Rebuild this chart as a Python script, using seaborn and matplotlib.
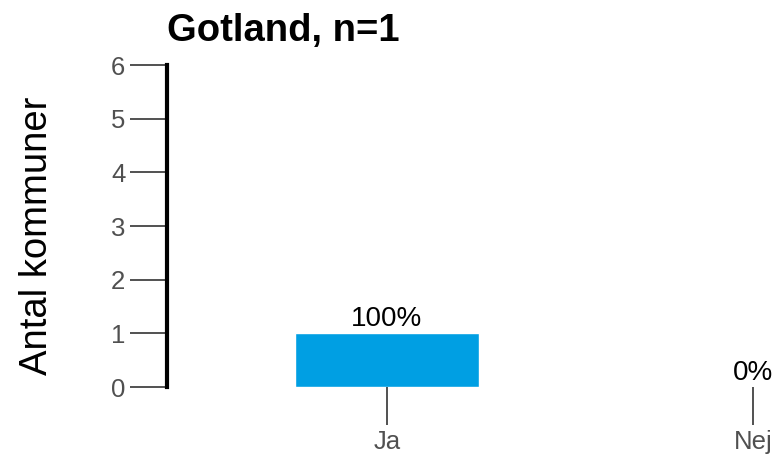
import pandas as pd
import matplotlib
matplotlib.use("Agg")
import matplotlib.pyplot as plt
import seaborn as sns

sns.set_style("white")
plt.rcParams['font.family'] = ['Liberation Sans', 'DejaVu Sans']

# data
categories = ["Ja", "Nej"]
counts = [1, 0]
pct_labels = ["100%", "0%"]
title = "Gotland, n=1"

df = pd.DataFrame({"svar": categories, "antal": counts})

W, H = 782, 465
fig = plt.figure(figsize=(W / 100, H / 100), dpi=100)
ax = fig.add_axes([167 / W, 1 - 387 / H, (775 - 167) / W, (387 - 65) / H])

sns.barplot(data=df, x="svar", y="antal", color="#009FE3", width=0.5,
            saturation=1, ax=ax)

ax.set_xlim(-0.601, 1.060)
ax.set_ylim(0, 6)
ax.set_yticks(range(7))

for i, (v, lab) in enumerate(zip(counts, pct_labels)):
    ax.annotate(lab, (i, v), xytext=(0, 1), textcoords="offset points",
                ha="center", va="bottom", fontsize=20, color="black")

sns.despine(ax=ax, top=True, right=True, bottom=True, left=False)
ax.spines['left'].set_linewidth(3)
ax.spines['left'].set_color("black")

ax.tick_params(axis="both", length=27, width=1.2, color="#333333",
               labelsize=18.5, labelcolor="#505050", pad=3, direction="out")
ax.tick_params(axis="x", bottom=True, pad=4)
ax.tick_params(axis="y", left=True)

ax.set_xlabel("")
ax.set_ylabel("Antal kommuner", fontsize=27.5, color="black")
ax.yaxis.set_label_coords(-0.184, 0.47)
ax.set_title(title, loc="left", fontsize=27.5, fontweight="bold", pad=17,
             color="black")
ax.grid(False)

fig.savefig("out.png", dpi=100)
